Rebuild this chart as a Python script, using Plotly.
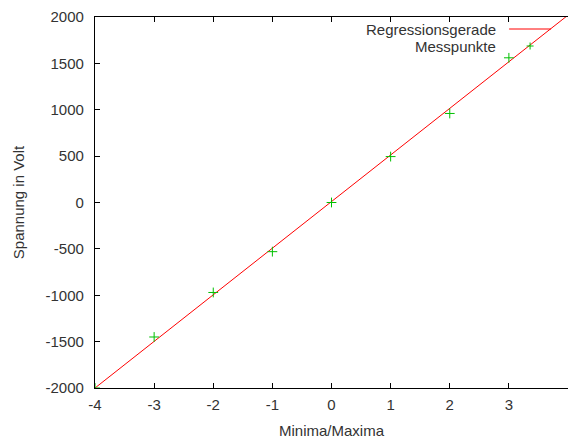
import plotly.graph_objects as go

# Data
mess_x = [-4, -3, -2, -1, 0, 1, 2, 3]
mess_y = [-2000, -1450, -970, -530, 0, 495, 960, 1560]

reg_slope = 502.5
reg_intercept = 10.0
reg_x = [-4, 4]
reg_y = [reg_slope * v + reg_intercept for v in reg_x]

x_ticks = [-4, -3, -2, -1, 0, 1, 2, 3, 4]
y_ticks = [-2000, -1500, -1000, -500, 0, 500, 1000, 1500, 2000]

font = "Liberation Sans, Arial, sans-serif"
fs = 15
tcol = "#333333"

fig = go.Figure()
fig.add_trace(go.Scatter(x=reg_x, y=reg_y, mode="lines", name="Regressionsgerade",
                         line=dict(color="#ff0000", width=1), showlegend=False))
fig.add_trace(go.Scatter(x=mess_x, y=mess_y, mode="markers", name="Messpunkte",
                         marker=dict(symbol="cross-thin", size=7,
                                     line=dict(color="#00c000", width=1)),
                         showlegend=False))

# gnuplot-style legend (text right aligned, sample on the right)
W = 474.0
H = 371.0
leg_texts = ["Regressionsgerade", "Messpunkte"]
leg_rows_y = [1 - (29 - 17) / H, 1 - (46 - 17) / H]
for t, yy in zip(leg_texts, leg_rows_y):
    fig.add_annotation(x=(499 - 95) / W, y=yy, xref="paper", yref="paper",
                       text=t, showarrow=False, xanchor="right", yanchor="middle",
                       font=dict(family=font, size=fs, color=tcol))
fig.add_shape(type="line", xref="paper", yref="paper",
              x0=(510 - 95) / W, x1=(552 - 95) / W, y0=leg_rows_y[0], y1=leg_rows_y[0],
              line=dict(color="#ff0000", width=1))
pl = 3.5
cx, cy = (531 - 95) / W, leg_rows_y[1]
fig.add_shape(type="line", xref="paper", yref="paper",
              x0=cx - pl / W, x1=cx + pl / W, y0=cy, y1=cy,
              line=dict(color="#00c000", width=1))
fig.add_shape(type="line", xref="paper", yref="paper",
              x0=cx, x1=cx, y0=cy - pl / H, y1=cy + pl / H,
              line=dict(color="#00c000", width=1))

axis_common = dict(showgrid=False, zeroline=False, showline=True, linecolor="#000000",
                   linewidth=1, ticks="inside", ticklen=5, tickcolor="#000000",
                   tickfont=dict(family=font, size=fs, color=tcol))
fig.update_xaxes(range=[-4, 4], tickvals=x_ticks, ticktext=[str(v) for v in x_ticks],
                 mirror="ticks", ticklabelstandoff=3,
                 title=dict(text="Minima/Maxima", standoff=13,
                            font=dict(family=font, size=fs, color=tcol)),
                 **axis_common)
fig.update_yaxes(range=[-2000, 2000], tickvals=y_ticks,
                 ticktext=[str(v) + "\u00a0\u2009" for v in y_ticks],
                 title=dict(text="Spannung in Volt", standoff=17,
                            font=dict(family=font, size=fs, color=tcol)),
                 **axis_common)

fig.update_layout(width=568, height=439, margin=dict(l=95, r=0, t=17, b=51),
                  plot_bgcolor="white", paper_bgcolor="white", showlegend=False)
fig.write_html("out.html")
